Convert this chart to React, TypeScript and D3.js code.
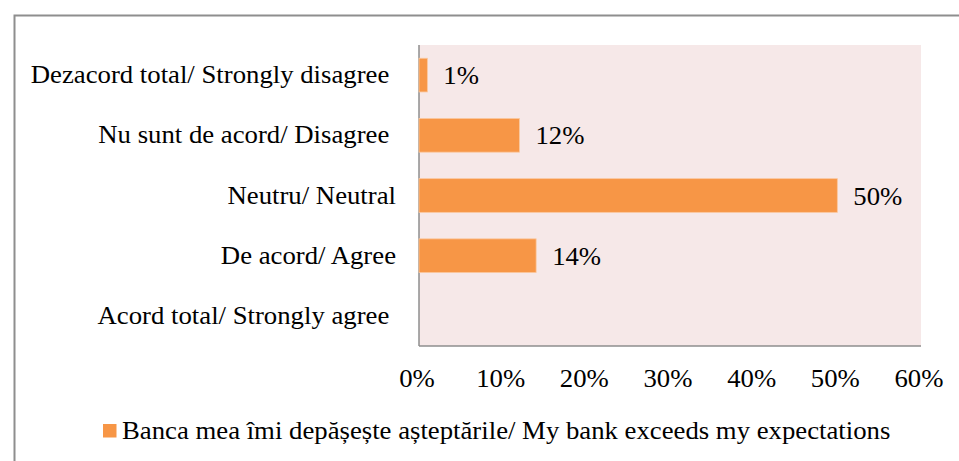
import React from "react";
import * as d3 from "d3";

const categories = [
  "Dezacord total/ Strongly disagree ",
  "Nu sunt de acord/ Disagree ",
  "Neutru/ Neutral",
  "De acord/ Agree",
  "Acord total/ Strongly agree ",
];
const values: (number | null)[] = [1, 12, 50, 14, null];
const ticks = [0, 10, 20, 30, 40, 50, 60];
const seriesName = "Banca mea îmi depășește așteptările/ My bank exceeds my expectations";

const W = 959;
const H = 461;
const FONT = "Liberation Serif";
const FS = 25;
const SX = 1.07;

function T({ x, y, anchor = "start", children }: { x: number; y: number; anchor?: string; children: React.ReactNode }) {
  return (
    <text
      transform={`translate(${x},${y}) scale(${SX},1)`}
      textAnchor={anchor}
      fontFamily={FONT}
      fontSize={FS}
      fill="#000"
      style={{ whiteSpace: "pre" }}
    >
      {children}
    </text>
  );
}

export default function App() {
  const left = 419;
  const right = 921;
  const top = 45;
  const bottom = 346;
  const x = d3.scaleLinear().domain([0, 60]).range([left, right]);
  const y = d3.scaleBand<string>().domain(categories).range([top, bottom]).paddingInner(0.44).paddingOuter(0.22);
  const bw = y.bandwidth();

  return (
    <svg width={W} height={H} style={{ position: "absolute", left: 0, top: 0 }}>
      <rect x={0} y={0} width={W} height={H} fill="#ffffff" />
      <rect x={14.5} y={15.5} width={W + 20} height={H + 20} fill="none" stroke="#8e8e8e" strokeWidth={2} />
      <rect x={left} y={top} width={right - left} height={bottom - top} fill="#f6e8e8" />
      <line x1={left} x2={right} y1={bottom} y2={bottom} stroke="#8e8e8e" strokeWidth={1.5} />
      <line x1={left} x2={left} y1={top} y2={bottom} stroke="#8e8e8e" strokeWidth={1.5} />
      {categories.map((c, i) => {
        const v = values[i];
        const yy = y(c)!;
        return (
          <g key={c}>
            <T x={396} y={yy + bw / 2 + 8} anchor="end">
              {c}
            </T>
            {v != null && (
              <>
                <rect x={x(0)} y={yy} width={x(v) - x(0)} height={bw} fill="#f79646" stroke="#fbc89f" strokeWidth={0.8} />
                <T x={x(v) + 16} y={yy + bw / 2 + 9}>
                  {`${v}%`}
                </T>
              </>
            )}
          </g>
        );
      })}
      {ticks.map((t) => (
        <T key={t} x={x(t) - 2} y={386.5} anchor="middle">
          {`${t}%`}
        </T>
      ))}
      <rect x={103} y={424} width={13.5} height={13.5} fill="#f79646" />
      <T x={122} y={439}>
        {seriesName}
      </T>
    </svg>
  );
}
